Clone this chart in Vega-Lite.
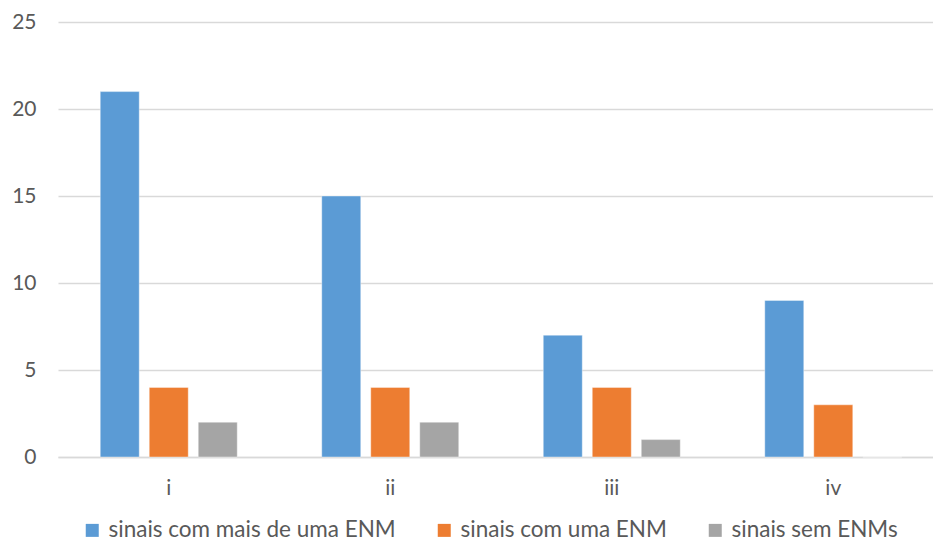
{
  "$schema": "https://vega.github.io/schema/vega-lite/v6.json",
  "autosize": {"type": "none"},
  "padding": {"left": 58, "top": 22, "right": 0, "bottom": 85},
  "width": 875,
  "height": 435,
  "background": "white",
  "config": {
    "view": {"stroke": null},
    "font": "Lato",
    "axis": {"labelFont": "Lato", "labelColor": "#595959", "labelFontSize": 21},
    "legend": {"labelFont": "Lato", "labelColor": "#595959", "labelFontSize": 22.5}
  },
  "data": {
    "values": [
      {"cat": "i", "serie": "sinais com mais de uma ENM", "valor": 21},
      {"cat": "i", "serie": "sinais com uma ENM", "valor": 4},
      {"cat": "i", "serie": "sinais sem ENMs", "valor": 2},
      {"cat": "ii", "serie": "sinais com mais de uma ENM", "valor": 15},
      {"cat": "ii", "serie": "sinais com uma ENM", "valor": 4},
      {"cat": "ii", "serie": "sinais sem ENMs", "valor": 2},
      {"cat": "iii", "serie": "sinais com mais de uma ENM", "valor": 7},
      {"cat": "iii", "serie": "sinais com uma ENM", "valor": 4},
      {"cat": "iii", "serie": "sinais sem ENMs", "valor": 1},
      {"cat": "iv", "serie": "sinais com mais de uma ENM", "valor": 9},
      {"cat": "iv", "serie": "sinais com uma ENM", "valor": 3},
      {"cat": "iv", "serie": "sinais sem ENMs", "valor": 0}
    ]
  },
  "mark": {"type": "bar", "stroke": "white", "strokeWidth": 1, "strokeOpacity": 0.4},
  "encoding": {
    "x": {
      "field": "cat", "type": "nominal", "sort": ["i", "ii", "iii", "iv"],
      "scale": {"paddingInner": 0.3815, "paddingOuter": 0.1658, "align": 0.575},
      "axis": {"title": null, "labelAngle": 0, "ticks": false, "domainColor": "#D9D9D9", "domainWidth": 1.5, "labelPadding": 20}
    },
    "xOffset": {
      "field": "serie", "type": "nominal",
      "sort": ["sinais com mais de uma ENM", "sinais com uma ENM", "sinais sem ENMs"],
      "scale": {"paddingInner": 0.204, "paddingOuter": 0}
    },
    "y": {
      "field": "valor", "type": "quantitative",
      "scale": {"domain": [0, 25], "nice": false},
      "axis": {"title": null, "values": [0, 5, 10, 15, 20, 25], "domain": false, "ticks": false, "labelPadding": 22, "gridColor": "#D9D9D9", "gridWidth": 1.5}
    },
    "color": {
      "field": "serie", "type": "nominal",
      "scale": {"domain": ["sinais com mais de uma ENM", "sinais com uma ENM", "sinais sem ENMs"], "range": ["#5B9BD5", "#ED7D31", "#A5A5A5"]},
      "legend": {"title": null, "orient": "none", "direction": "horizontal", "legendX": 23, "legendY": 497, "symbolType": "square", "symbolSize": 169, "symbolStrokeWidth": 0, "labelOffset": 5, "labelLimit": 0, "columnPadding": 37}
    }
  }
}
